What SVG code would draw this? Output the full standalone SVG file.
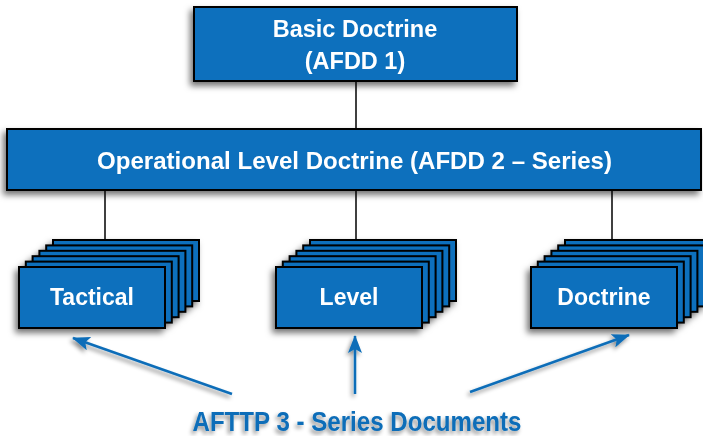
<svg xmlns="http://www.w3.org/2000/svg" width="703" height="436" viewBox="0 0 703 436">
<defs>
<filter id="sh" x="-20%" y="-20%" width="140%" height="150%">
<feDropShadow dx="-3" dy="4" stdDeviation="3" flood-color="#000" flood-opacity="0.55"/>
</filter>
<filter id="tsh" x="-10%" y="-30%" width="120%" height="180%">
<feDropShadow dx="-2" dy="3" stdDeviation="2" flood-color="#000" flood-opacity="0.45"/>
</filter>
<marker id="ah" viewBox="0 0 18 14" refX="17" refY="7" markerWidth="18" markerHeight="14" markerUnits="userSpaceOnUse" orient="auto">
<path d="M0,0 L18,7 L0,14 L4,7 Z" fill="#0b6db8"/>
</marker>
<g id="card">
<rect width="146" height="61" class="box"/>
</g>
</defs>
<style>
.box{fill:#0a6fbd;stroke:#000;stroke-width:2}
.lbl{font-family:"Liberation Sans",Arial,sans-serif;font-weight:bold;fill:#fff;text-anchor:middle}
.conn{stroke:#000;stroke-width:1.5;fill:none}
.arr{stroke:#0b6db8;stroke-width:2.5;fill:none;marker-end:url(#ah)}
</style>
<rect width="703" height="436" fill="#fff"/>
<g id="connectors">
<line class="conn" x1="356" y1="81" x2="356" y2="129"/>
<line class="conn" x1="105" y1="190" x2="105" y2="241"/>
<line class="conn" x1="356" y1="190" x2="356" y2="241"/>
<line class="conn" x1="612" y1="190" x2="612" y2="241"/>
</g>
<g id="basic" filter="url(#sh)">
<rect class="box" x="194" y="7" width="323" height="74"/>
<text class="lbl" x="355" y="37" font-size="23.5">Basic Doctrine</text>
<text class="lbl" x="355" y="69" font-size="23.5">(AFDD 1)</text>
</g>
<g id="operational" filter="url(#sh)">
<rect class="box" x="7" y="129" width="694" height="61"/>
<text class="lbl" x="354.5" y="169" font-size="24" textLength="515" lengthAdjust="spacingAndGlyphs">Operational Level Doctrine (AFDD 2 – Series)</text>
</g>
<g id="tactical" filter="url(#sh)">
<use href="#card" x="53" y="240"/>
<use href="#card" x="46.2" y="245.4"/>
<use href="#card" x="39.4" y="250.8"/>
<use href="#card" x="32.6" y="256.2"/>
<use href="#card" x="25.8" y="261.6"/>
<use href="#card" x="19" y="267"/>
<text class="lbl" x="92" y="305" font-size="23">Tactical</text>
</g>
<g id="level" filter="url(#sh)">
<use href="#card" x="310" y="240"/>
<use href="#card" x="303.2" y="245.4"/>
<use href="#card" x="296.4" y="250.8"/>
<use href="#card" x="289.6" y="256.2"/>
<use href="#card" x="282.8" y="261.6"/>
<use href="#card" x="276" y="267"/>
<text class="lbl" x="349" y="305" font-size="23">Level</text>
</g>
<g id="doctrine" filter="url(#sh)">
<use href="#card" x="565" y="240"/>
<use href="#card" x="558.2" y="245.4"/>
<use href="#card" x="551.4" y="250.8"/>
<use href="#card" x="544.6" y="256.2"/>
<use href="#card" x="537.8" y="261.6"/>
<use href="#card" x="531" y="267"/>
<text class="lbl" x="604" y="305" font-size="23">Doctrine</text>
</g>
<g id="arrows" filter="url(#tsh)">
<line class="arr" x1="232" y1="394" x2="73" y2="338"/>
<line class="arr" x1="355" y1="394" x2="355" y2="336"/>
<line class="arr" x1="470" y1="392" x2="629" y2="335"/>
</g>
<g id="series" filter="url(#tsh)">
<text x="357" y="431" font-family="'Liberation Sans',Arial,sans-serif" font-weight="bold" font-size="27" fill="#0b6db8" text-anchor="middle" textLength="329" lengthAdjust="spacingAndGlyphs">AFTTP 3 - Series Documents</text>
</g>
</svg>
